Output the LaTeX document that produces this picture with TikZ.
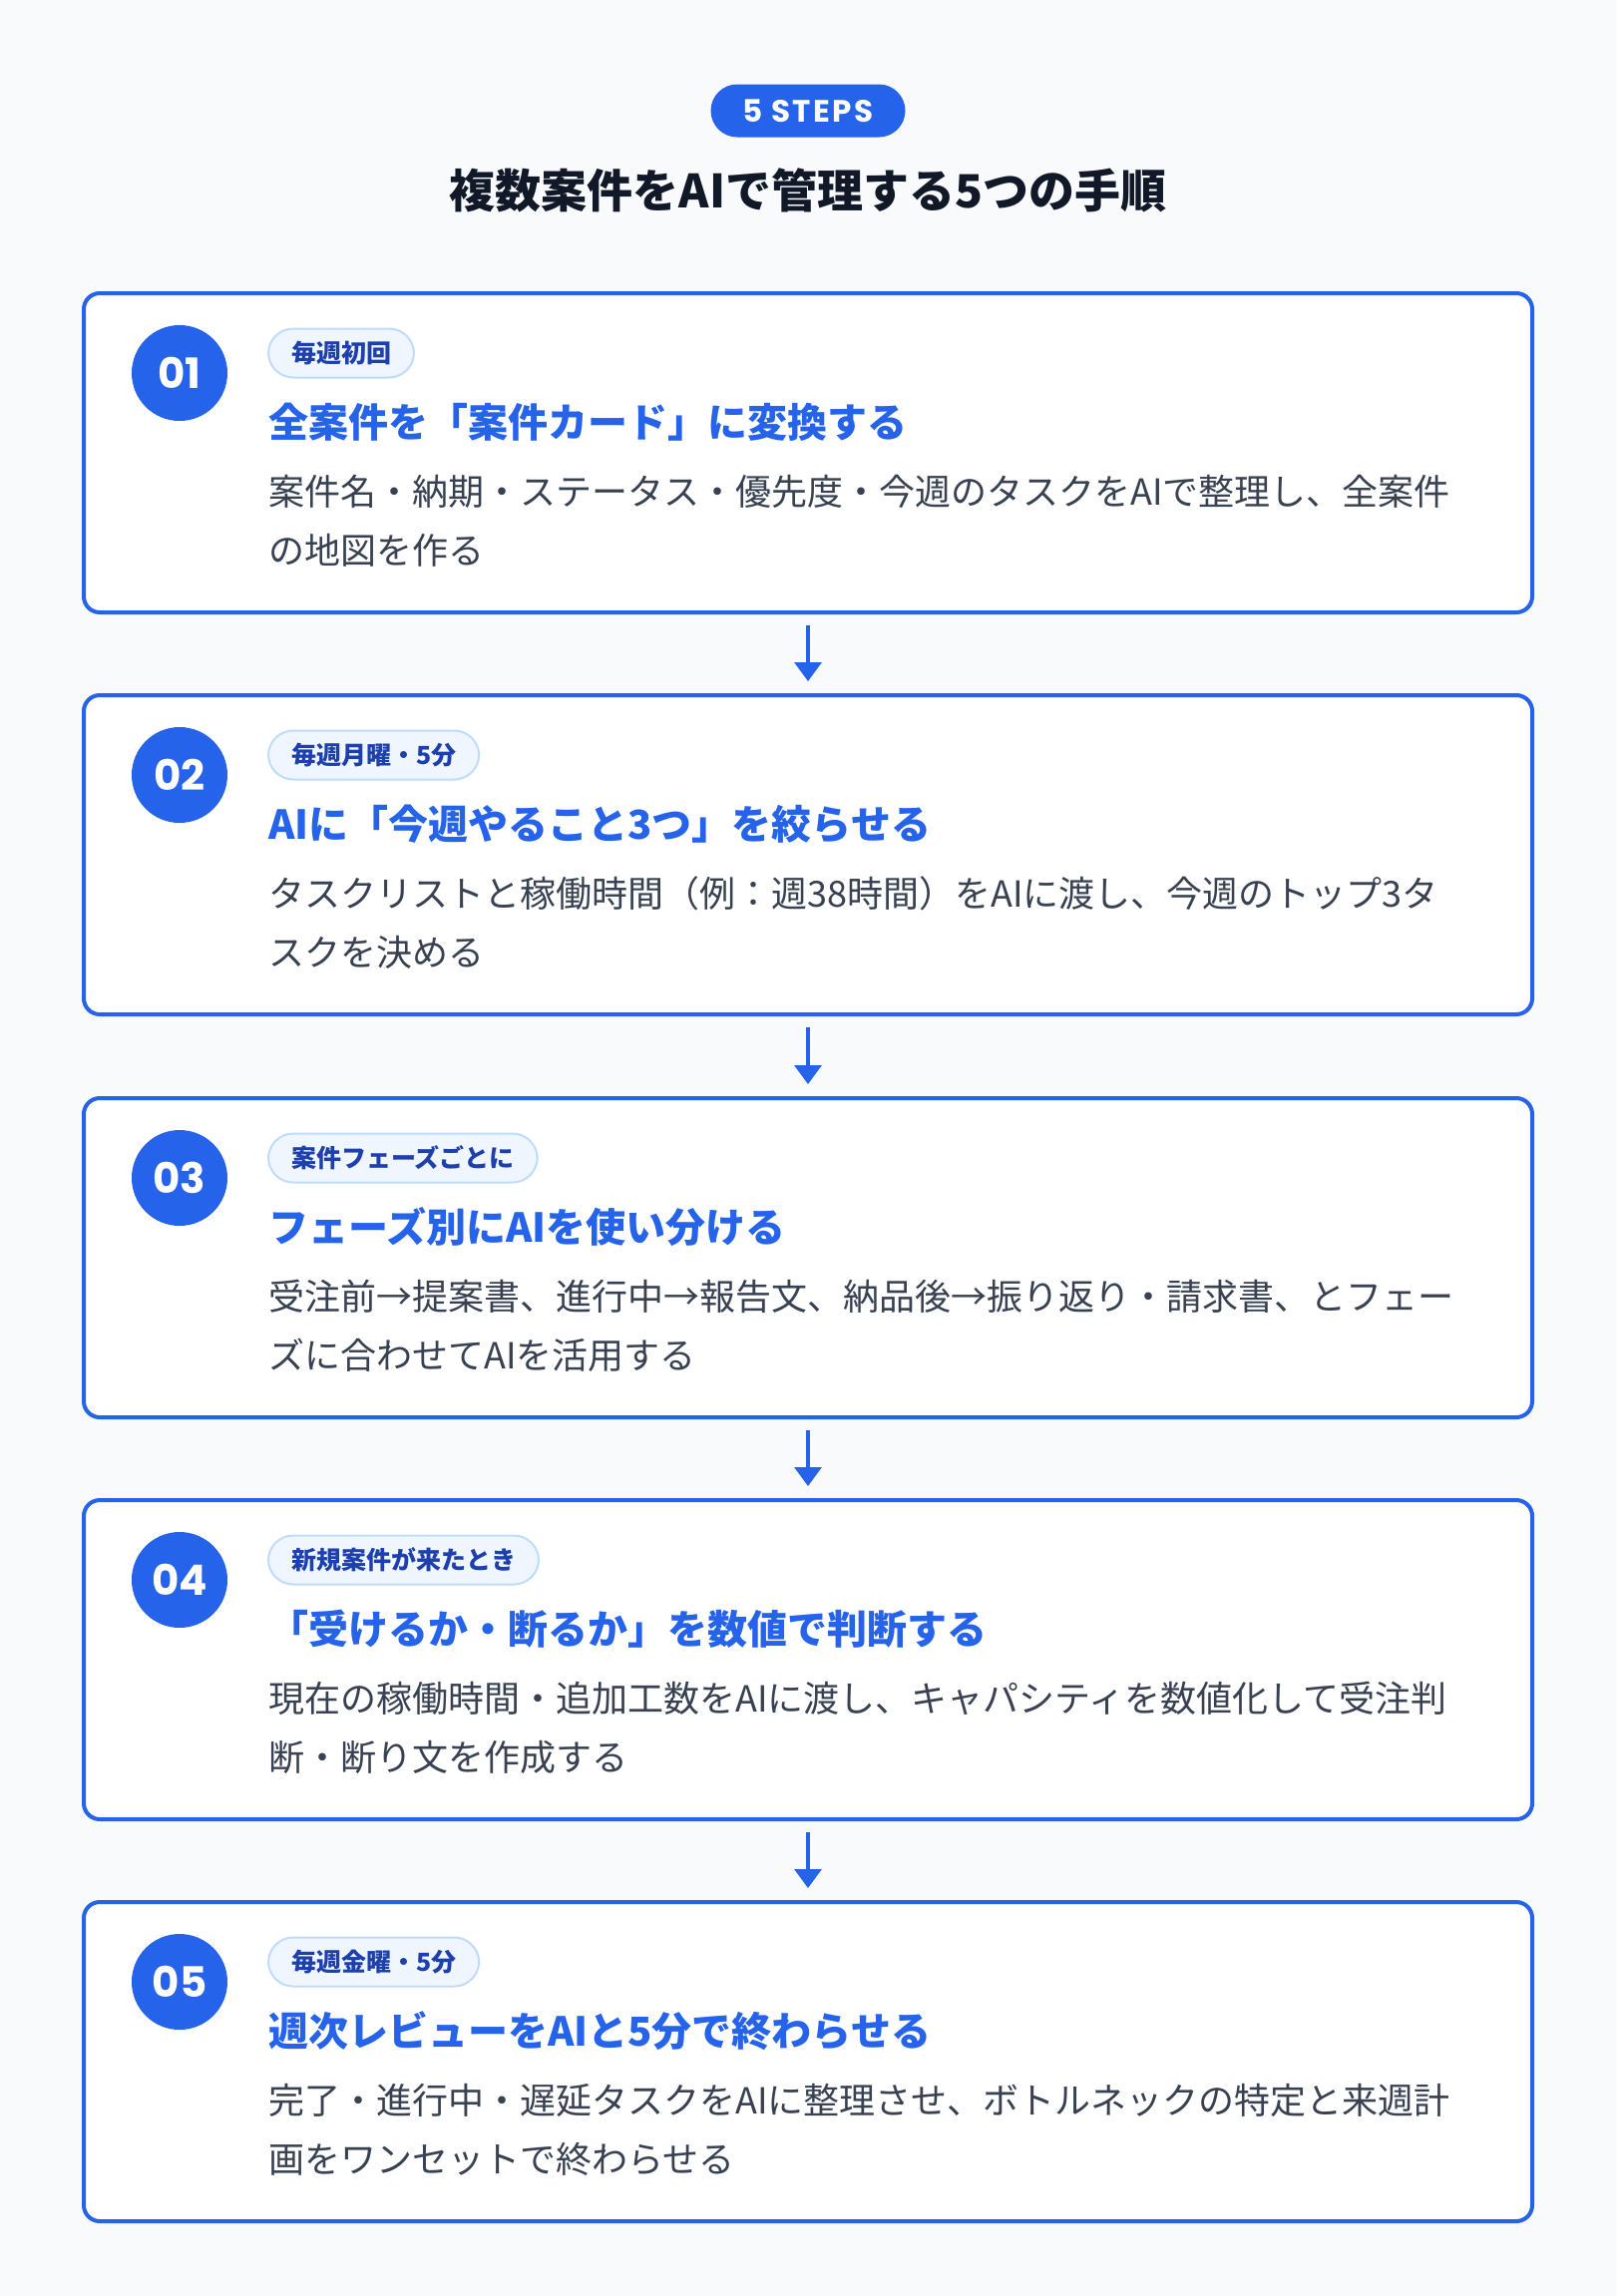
\documentclass[tikz,border=0pt]{standalone}
\usepackage{fontspec}
\setmainfont{Noto Sans CJK JP}
\newfontfamily\pop{Poppins}
\usetikzlibrary{arrows.meta}
\definecolor{bg}{HTML}{F8FAFC}
\definecolor{blue}{HTML}{2563EB}
\definecolor{badgefill}{HTML}{EFF6FF}
\definecolor{badgeline}{HTML}{BFDBFE}
\definecolor{badgetext}{HTML}{1E40AF}
\definecolor{desctext}{HTML}{374151}
\definecolor{headtext}{HTML}{111827}
\tikzset{
  card/.style={draw=blue, line width=4pt, fill=white, rounded corners=16pt,
    minimum width=1452pt, minimum height=320pt, inner sep=0pt},
  numdot/.style={circle, fill=blue, minimum size=96pt, inner sep=0pt,
    text=white, font=\pop\bfseries\fontsize{42}{42}\selectfont},
  badge/.style={draw=badgeline, line width=2pt, fill=badgefill, rounded corners=25pt,
    minimum height=49pt, inner xsep=23pt, inner ysep=0pt, text=badgetext,
    font=\bfseries\fontsize{25}{25}\selectfont},
  steptitle/.style={inner sep=0pt, text=blue, font=\bfseries\fontsize{40}{40}\selectfont},
  desc/.style={inner sep=0pt, text=desctext, font=\fontsize{36}{36}\selectfont},
  flow/.style={draw=blue, line width=3.3pt, -{Triangle[width=27pt,length=19pt]},
    shorten <=11pt, shorten >=12pt},
  pill/.style={fill=blue, rounded corners=26.5pt, minimum width=195pt, minimum height=53pt,
    inner sep=0pt, text=white, font=\pop\bfseries\addfontfeatures{LetterSpace=8}\fontsize{31}{31}\selectfont},
  heading/.style={inner sep=0pt, text=headtext, font=\bfseries\fontsize{46}{46}\selectfont}
}
\newcommand\mystep[6]{%
  \node[card] (card#1) at (810,#2+162) {};
  \node[numdot] (num#1) at (180,#2+82) {0#1};
  \node[badge,anchor=west] (badge#1) at (268,#2+62) {#3};
  \node[steptitle,anchor=base west] (title#1) at (269,#2+146) {#4};
  \node[desc,anchor=base west] (desca#1) at (269,#2+214) {#5};
  \node[desc,anchor=base west] (descb#1) at (269,#2+273) {#6};
}
\begin{document}
\begin{tikzpicture}[x=1pt,y=-1pt]
\fill[bg] (0,0) rectangle (1620,2302);
\useasboundingbox (0,0) rectangle (1620,2302);
\node[pill] (pill) at (810,111) {5 STEPS};
\node[heading,anchor=base] (head) at (810,208) {複数案件をAIで管理する5つの手順};
\mystep{1}{292}{毎週初回}{全案件を「案件カード」に変換する}{案件名・納期・ステータス・優先度・今週のタスクをAIで整理し、全案件}{の地図を作る}
\mystep{2}{695}{毎週月曜・5分}{AIに「今週やること3つ」を絞らせる}{タスクリストと稼働時間（例：週38時間）をAIに渡し、今週のトップ3タ}{スクを決める}
\mystep{3}{1099}{案件フェーズごとに}{フェーズ別にAIを使い分ける}{受注前→提案書、進行中→報告文、納品後→振り返り・請求書、とフェー}{ズに合わせてAIを活用する}
\mystep{4}{1502}{新規案件が来たとき}{「受けるか・断るか」を数値で判断する}{現在の稼働時間・追加工数をAIに渡し、キャパシティを数値化して受注判}{断・断り文を作成する}
\mystep{5}{1905}{毎週金曜・5分}{週次レビューをAIと5分で終わらせる}{完了・進行中・遅延タスクをAIに整理させ、ボトルネックの特定と来週計}{画をワンセットで終わらせる}
\draw[flow] (card1.south) -- (card2.north);
\draw[flow] (card2.south) -- (card3.north);
\draw[flow] (card3.south) -- (card4.north);
\draw[flow] (card4.south) -- (card5.north);
\end{tikzpicture}
\end{document}
